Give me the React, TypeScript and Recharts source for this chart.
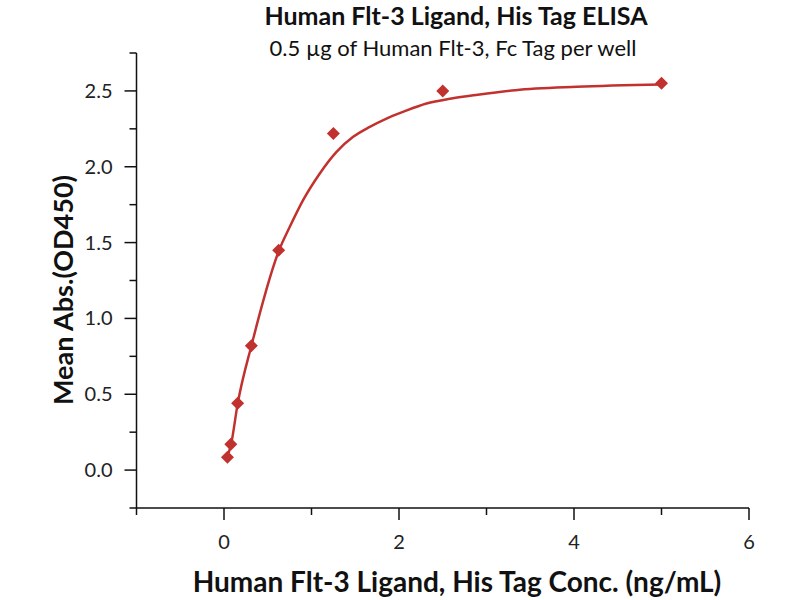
import React from 'react';
import { ComposedChart, Line, Scatter, XAxis, YAxis } from 'recharts';

// measured points (ng/mL vs OD450)
const concentrations = [0.039, 0.078, 0.156, 0.3125, 0.625, 1.25, 2.5, 5];
const meanAbs = [0.085, 0.17, 0.44, 0.82, 1.45, 2.22, 2.5, 2.55];

// fitted curve
const fitX = [0.039, 0.079, 0.157, 0.32, 0.63, 0.752, 0.904, 1.095, 1.286, 1.476, 1.666, 1.857, 2.047, 2.314, 2.6, 2.9, 3.33, 4.03, 5.0];
const fitY = [0.09, 0.165, 0.44, 0.835, 1.45, 1.604, 1.78, 1.956, 2.098, 2.197, 2.263, 2.318, 2.362, 2.417, 2.45, 2.475, 2.505, 2.527, 2.542];

const xTicks = [-1, 0, 1, 2, 3, 4, 5, 6];
const yTicks = [-0.25, 0, 0.25, 0.5, 0.75, 1, 1.25, 1.5, 1.75, 2, 2.25, 2.5, 2.75];

const RED = '#C1322F';
const AXIS = '#111';
const FONT = 'Lato, "Open Sans", sans-serif';

const points = concentrations.map((x, i) => ({ x, y: meanAbs[i] }));
const curve = fitX.map((x, i) => ({ x, y: fitY[i] }));

function Diamond(props: any) {
  const { cx, cy } = props;
  const r = 6.5;
  return (
    <polygon
      points={`${cx},${cy - r} ${cx + r},${cy} ${cx},${cy + r} ${cx - r},${cy}`}
      fill={RED}
    />
  );
}

function XTick(props: any) {
  const { x, y, payload } = props;
  const v = payload.value;
  const major = v >= 0 && v % 2 === 0;
  return (
    <g>
      <line x1={x} y1={y} x2={x} y2={y + (major ? 12 : 7)} stroke={AXIS} strokeWidth={1.5} />
      {major && (
        <text x={x} y={y + 41} textAnchor="middle" fontSize={20} fill="#222" fontFamily={FONT}>
          {v}
        </text>
      )}
    </g>
  );
}

function YTick(props: any) {
  const { x, y, payload } = props;
  const v = payload.value;
  const major = v >= 0 && Number.isInteger(v * 2);
  return (
    <g>
      <line x1={x - (major ? 12 : 7)} y1={y} x2={x} y2={y} stroke={AXIS} strokeWidth={1.5} />
      {major && (
        <text x={x - 24} y={y + 7} textAnchor="end" fontSize={20} fill="#222" fontFamily={FONT}>
          {v.toFixed(1)}
        </text>
      )}
    </g>
  );
}

export default function App() {
  return (
    <div
      style={{
        position: 'absolute',
        left: 0,
        top: 0,
        width: 800,
        height: 600,
        background: '#fff',
        fontFamily: FONT,
        color: '#111',
      }}
    >
      <div style={{ position: 'absolute', left: 0, width: 912, top: 0, textAlign: 'center', fontSize: 25, fontWeight: 700 }}>
        Human Flt-3 Ligand, His Tag ELISA
      </div>
      <div style={{ position: 'absolute', left: 0, width: 906, top: 34, textAlign: 'center', fontSize: 22 }}>
        0.5 µg of Human Flt-3, Fc Tag per well
      </div>
      <div
        style={{
          position: 'absolute',
          left: 62,
          top: 290,
          transform: 'translate(-50%, -50%) rotate(-90deg)',
          whiteSpace: 'nowrap',
          fontSize: 27,
          fontWeight: 700,
        }}
      >
        Mean Abs.(OD450)
      </div>
      <div style={{ position: 'absolute', left: 0, width: 914, top: 564, textAlign: 'center', fontSize: 28, fontWeight: 700 }}>
        Human Flt-3 Ligand, His Tag Conc. (ng/mL)
      </div>

      <ComposedChart
        width={800}
        height={600}
        margin={{ top: 53, right: 51, bottom: 52, left: 56.5 }}
        style={{ position: 'absolute', left: 0, top: 0 }}
      >
        <XAxis
          type="number"
          dataKey="x"
          domain={[-1, 6]}
          ticks={xTicks}
          interval={0}
          height={40}
          axisLine={{ stroke: AXIS, strokeWidth: 1.5 }}
          tickLine={false}
          tickSize={0}
          tickMargin={0}
          tick={<XTick />}
          allowDataOverflow
        />
        <YAxis
          type="number"
          dataKey="y"
          domain={[-0.25, 2.75]}
          ticks={yTicks}
          interval={0}
          width={80}
          axisLine={{ stroke: AXIS, strokeWidth: 1.5 }}
          tickLine={false}
          tickSize={0}
          tickMargin={0}
          tick={<YTick />}
          allowDataOverflow
        />
        <Line
          data={curve}
          dataKey="y"
          type="monotone"
          stroke={RED}
          strokeWidth={2.5}
          dot={false}
          activeDot={false}
          isAnimationActive={false}
        />
        <Scatter data={points} dataKey="y" fill={RED} shape={<Diamond />} isAnimationActive={false} />
      </ComposedChart>
    </div>
  );
}
